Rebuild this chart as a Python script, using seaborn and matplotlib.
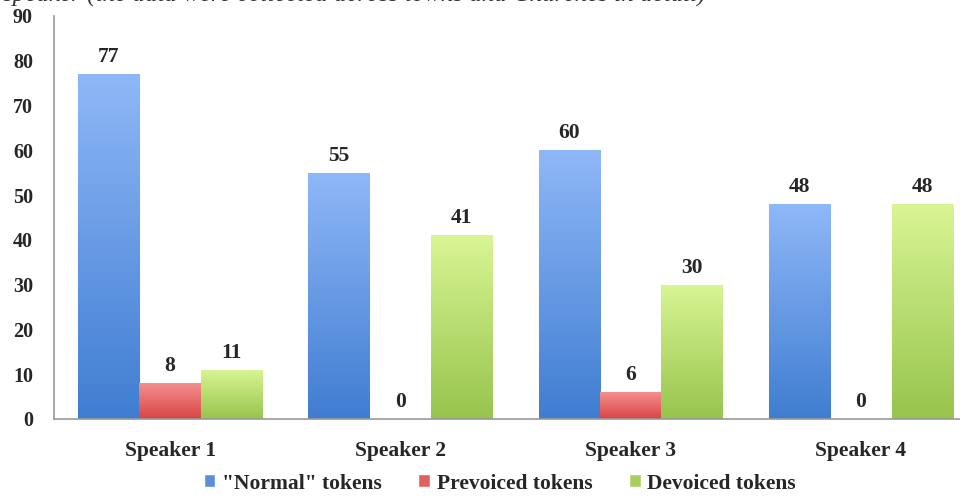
import numpy as np
import pandas as pd
import matplotlib
matplotlib.use("Agg")
import matplotlib.pyplot as plt
import seaborn as sns
from matplotlib.colors import LinearSegmentedColormap

speakers = ["Speaker 1", "Speaker 2", "Speaker 3", "Speaker 4"]
series_names = ['"Normal" tokens', "Prevoiced tokens", "Devoiced tokens"]
normal_vals = [77, 55, 60, 48]
prevoiced_vals = [8, 0, 6, 0]
devoiced_vals = [11, 41, 30, 48]
yticks = [0, 10, 20, 30, 40, 50, 60, 70, 80, 90]

rows = []
for name, vals in zip(series_names, [normal_vals, prevoiced_vals, devoiced_vals]):
    for sp, v in zip(speakers, vals):
        rows.append({"speaker": sp, "series": name, "value": v})
df = pd.DataFrame(rows)

base_colors = ["#5b8fdc", "#e06060", "#a8d060"]
grad = {
    0: ((0.56, 0.72, 0.97), (0.25, 0.49, 0.82)),
    1: ((0.96, 0.56, 0.56), (0.85, 0.27, 0.27)),
    2: ((0.85, 0.96, 0.58), (0.59, 0.77, 0.30)),
}

sns.set_style("white")
plt.rcParams["font.family"] = ["Liberation Serif", "DejaVu Serif"]

fig = plt.figure(figsize=(9.6, 5.0), dpi=100)
ax = fig.add_axes([0.056, 0.162, 0.944, 0.806])

sns.barplot(data=df, x="speaker", y="value", hue="series", palette=base_colors,
            hue_order=series_names, order=speakers, width=0.8, ax=ax,
            errorbar=None, legend=True, saturation=1)

ax.set_ylim(0, 90)
ax.set_yticks(yticks)
ax.set_yticklabels([str(t) for t in yticks], fontsize=14.5, fontweight="bold")
ax.tick_params(axis="x", labelsize=15.5, length=0, pad=16)
ax.tick_params(axis="y", length=0, pad=15)
for lab in ax.get_xticklabels():
    lab.set_fontweight("bold")
ax.set_xlabel("")
ax.set_ylabel("")

for sp in ["top", "right"]:
    ax.spines[sp].set_visible(False)
ax.spines["left"].set_color("#999999")
ax.spines["bottom"].set_color("#999999")
ax.spines["left"].set_linewidth(1.2)
ax.spines["bottom"].set_linewidth(1.2)

# gradient fill
for i, cont in enumerate(ax.containers):
    top_c, bot_c = grad[i]
    cmap = LinearSegmentedColormap.from_list(f"g{i}", [bot_c, top_c])
    for patch in cont:
        h = patch.get_height()
        if h <= 0:
            continue
        x0 = patch.get_x()
        w = patch.get_width()
        g = np.linspace(0, 1, 256).reshape(-1, 1)
        im = ax.imshow(g, cmap=cmap, origin="lower", aspect="auto",
                       extent=[x0, x0 + w, 0, h], zorder=patch.get_zorder() + 0.1)
        im.set_clip_path(patch)
    ax.bar_label(cont, fmt="%d", padding=5, fontsize=15.5, fontweight="bold")

ax.set_xlim(-0.505, 3.43)
ax.set_ylim(0, 90)

leg = ax.legend(loc="upper center", bbox_to_anchor=(0.492, -0.098), ncol=3,
                frameon=False, handlelength=0.55, handleheight=0.55,
                handletextpad=0.3, columnspacing=1.7, borderpad=0.2,
                prop={"weight": "bold", "size": 15.5})

fig.text(0.003, 1 - 2 / 500,
         "speaker (the data were collected across towns and Churches in detail)",
         fontsize=18, style="italic", va="baseline", ha="left", color="#333333")

fig.savefig("out.png", dpi=100)
